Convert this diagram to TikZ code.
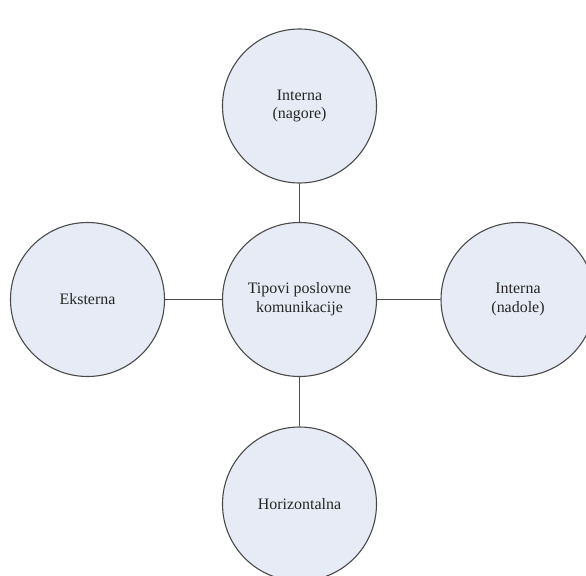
\documentclass[tikz,border=0pt]{standalone}
\usepackage{fontspec}
\setmainfont{Liberation Serif}
\usepackage{tikz}
\definecolor{bubblefill}{HTML}{E6EBF5}
\definecolor{bubbleedge}{HTML}{4A4A4A}

\begin{document}
\begin{tikzpicture}[x=1bp, y=-1bp, font=\fontsize{16}{19}\selectfont,
	bubble/.style={circle, draw=bubbleedge, line width=1.1bp, fill=bubblefill, minimum size=154bp, inner sep=0pt, align=center, text=black!85},
	link/.style={draw=black!70, line width=1.1bp}]
	\useasboundingbox (0,0) rectangle (586,576);
	\clip (0,0) rectangle (586,576);
	\node[bubble] (tipovi) at (299.5,299.5) {Tipovi poslovne\\komunikacije};
	\node[bubble] (nagore) at (299.5,106) {Interna\\(nagore)};
	\node[bubble] (eksterna) at (87.5,299.5) {Eksterna};
	\node[bubble] (nadole) at (518,299.5) {Interna\\(nadole)};
	\node[bubble] (horiz) at (299.5,504) {Horizontalna};
	\draw[link] (tipovi) -- (nagore);
	\draw[link] (tipovi) -- (eksterna);
	\draw[link] (tipovi) -- (nadole);
	\draw[link] (tipovi) -- (horiz);
\end{tikzpicture}
\end{document}
